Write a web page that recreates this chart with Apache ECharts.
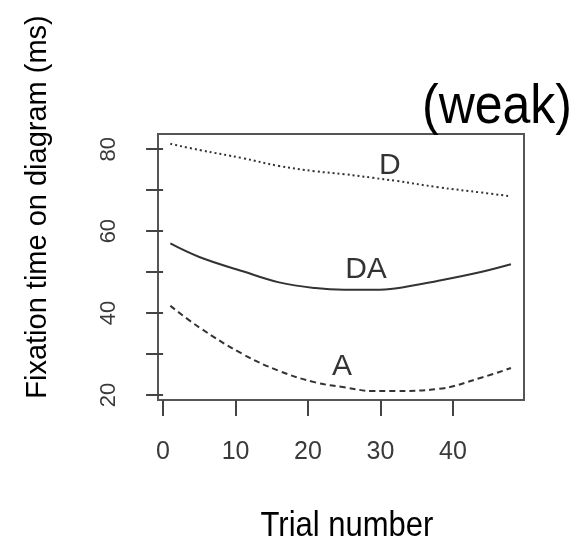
<!DOCTYPE html>
<html>
<head>
<meta charset="utf-8">
<script src="https://cdn.jsdelivr.net/npm/echarts@6.0.0/dist/echarts.min.js"></script>
<style>
  html, body { margin: 0; padding: 0; background: #fff; }
  #chart { width: 587px; height: 540px; }
</style>
</head>
<body>
<div id="chart"></div>
<script>
var trial = [1, 5, 11, 16, 21, 25, 29, 32, 38, 44, 48];
var fixD  = [81.3, 79.8, 77.8, 75.9, 74.6, 73.9, 73.0, 72.3, 70.7, 69.4, 68.5];
var fixDA = [57.0, 53.7, 50.2, 47.5, 46.1, 45.7, 45.7, 46.0, 47.9, 50.1, 51.9];
var fixA  = [41.8, 36.5, 30.0, 25.9, 23.1, 21.9, 21.0, 21.0, 21.5, 24.3, 26.6];

var xTicks = [0, 10, 20, 30, 40];
var yTicks = [20, 30, 40, 50, 60, 70, 80];
var yLabels = [20, 40, 60, 80];

// where the curve names sit (data coords)
var curveNames = ['D', 'DA', 'A'];
var curveNameX = [31.3, 28.0, 24.7];
var curveNameY = [75.9, 50.7, 26.8];

var font = '"Liberation Sans", Arial, sans-serif';

function pairs(xs, ys) {
    var out = [];
    for (var i = 0; i < xs.length; i++) {
        out.push([xs[i], ys[i]]);
    }
    return out;
}

var nameData = [];
for (var i = 0; i < curveNames.length; i++) {
    nameData.push([curveNameX[i], curveNameY[i], curveNames[i]]);
}

var chart = echarts.init(document.getElementById('chart'));

var option = {
    animation: false,
    backgroundColor: '#fff',
    grid: {
        left: 158,
        right: 63,
        top: 134,
        bottom: 140,
        show: true,
        borderColor: '#555',
        borderWidth: 2,
        containLabel: false,
        outerBoundsMode: 'none'
    },
    xAxis: {
        type: 'value',
        min: -0.7,
        max: 49.8,
        splitLine: { show: false },
        axisLine: { show: false },
        axisTick: {
            show: true,
            inside: false,
            length: 16,
            customValues: xTicks,
            lineStyle: { color: '#444', width: 2 }
        },
        axisLabel: {
            customValues: xTicks,
            margin: 40,
            color: '#3a3a3a',
            fontSize: 25,
            fontFamily: font
        }
    },
    yAxis: {
        type: 'value',
        min: 18.8,
        max: 83.7,
        splitLine: { show: false },
        axisLine: { show: false },
        axisTick: {
            show: true,
            inside: false,
            length: 17,
            customValues: yTicks,
            lineStyle: { color: '#444', width: 2 }
        },
        axisLabel: {
            customValues: yLabels,
            rotate: 90,
            margin: 38,
            color: '#3a3a3a',
            fontSize: 22,
            fontFamily: font
        }
    },
    graphic: [{
        type: 'text',
        x: 38,
        y: 207,
        rotation: Math.PI / 2,
        style: {
            text: 'Fixation time on diagram (ms)',
            font: '29px ' + font,
            fill: '#000',
            align: 'center',
            verticalAlign: 'middle'
        }
    }, {
        type: 'text',
        x: 347,
        y: 526,
        scaleY: 1.13,
        style: {
            text: 'Trial number',
            font: '31px ' + font,
            fill: '#000',
            align: 'center',
            verticalAlign: 'middle'
        }
    }, {
        type: 'text',
        x: 497,
        y: 108,
        scaleY: 1.12,
        style: {
            text: '(weak)',
            font: '50px ' + font,
            fill: '#000',
            align: 'center',
            verticalAlign: 'middle'
        }
    }],
    series: [{
        name: 'D',
        type: 'line',
        data: pairs(trial, fixD),
        smooth: 0.4,
        showSymbol: false,
        silent: true,
        lineStyle: { color: '#333', width: 2, type: [2, 3] }
    }, {
        name: 'DA',
        type: 'line',
        data: pairs(trial, fixDA),
        smooth: 0.4,
        showSymbol: false,
        silent: true,
        lineStyle: { color: '#333', width: 2, type: 'solid' }
    }, {
        name: 'A',
        type: 'line',
        data: pairs(trial, fixA),
        smooth: 0.4,
        showSymbol: false,
        silent: true,
        lineStyle: { color: '#333', width: 2, type: [6, 4] }
    }, {
        name: 'names',
        type: 'scatter',
        data: nameData,
        symbolSize: 0,
        silent: true,
        label: {
            show: true,
            position: 'inside',
            formatter: function (p) { return p.data[2]; },
            color: '#000',
            fontSize: 30,
            fontFamily: font
        }
    }]
};

chart.setOption(option);
</script>
</body>
</html>
